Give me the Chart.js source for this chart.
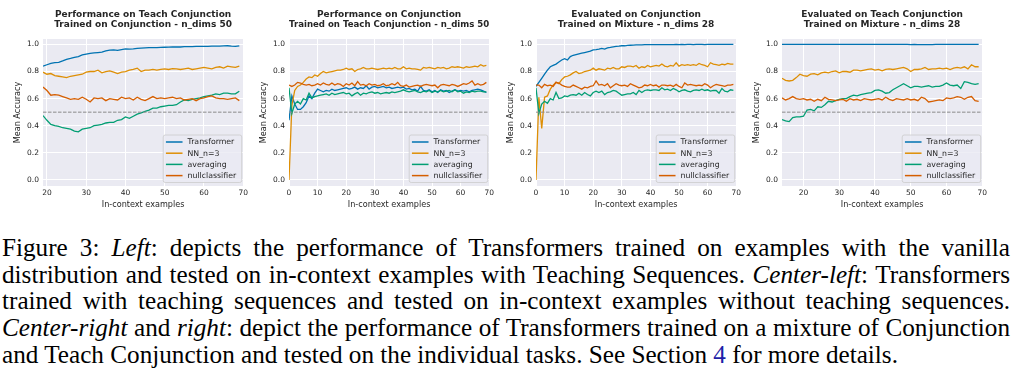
<!DOCTYPE html>
<html>
<head>
<meta charset="utf-8">
<script src="https://cdn.jsdelivr.net/npm/chart.js@4.4.0/dist/chart.umd.min.js"></script>
<style>
  body { margin: 0; width: 1013px; height: 376px; background: #fff; overflow: hidden; position: relative; }
  canvas { position: absolute; top: 0; }
  #caption {
    position: absolute; left: 2px; top: 235px; width: 1008px;
    font-family: "Liberation Serif", "Times New Roman", serif;
    font-size: 25.2px; line-height: 26.7px; color: #000;
  }
  #caption .ln { text-align: justify; text-align-last: justify; }
  #caption .last { text-align-last: left; }
  #caption .ref { color: #1f1fa8; }
</style>
</head>
<body>
<canvas id="c1" width="251" height="215" style="left:0px"></canvas>
<canvas id="c2" width="251" height="215" style="left:246px"></canvas>
<canvas id="c3" width="251" height="215" style="left:493px"></canvas>
<canvas id="c4" width="251" height="215" style="left:739px"></canvas>

<div id="caption">
  <div class="ln">Figure 3: <i>Left</i>: depicts the performance of Transformers trained on examples with the vanilla</div>
  <div class="ln">distribution and tested on in-context examples with Teaching Sequences. <i>Center-left</i>: Transformers</div>
  <div class="ln">trained with teaching sequences and tested on in-context examples without teaching sequences.</div>
  <div class="ln"><i>Center-right</i> and <i>right</i>: depict the performance of Transformers trained on a mixture of Conjunction</div>
  <div class="ln last">and Teach Conjunction and tested on the individual tasks. See Section <span class="ref">4</span> for more details.</div>
</div>

<script>
// series names + colours (seaborn colorblind)
const SERIES = ['Transformer', 'NN_n=3', 'averaging', 'nullclassifier'];
const COLORS = ['#0173B2', '#DE8F05', '#029E73', '#D55E00'];
const CHANCE = 0.5;
const Y_TICKS = [0, 0.2, 0.4, 0.6, 0.8, 1.0];
const Y_LIM = [-0.045, 1.04];

// panel 1: x = 19..69
const P1_TITLE = ['Performance on Teach Conjunction', 'Trained on Conjunction - n_dims 50'];
const P1_X0 = 19;
const P1_XLIM = [19, 70];
const P1_XTICKS = [20, 30, 40, 50, 60, 70];
const P1_TRANSFORMER = [0.84,0.85,0.86,0.865,0.868,0.878,0.89,0.897,0.905,0.91,
  0.922,0.928,0.934,0.937,0.94,0.943,0.952,0.958,0.96,0.956,
  0.962,0.967,0.965,0.967,0.971,0.973,0.975,0.977,0.976,0.977,
  0.978,0.979,0.98,0.981,0.982,0.981,0.983,0.984,0.983,0.985,
  0.986,0.986,0.985,0.987,0.988,0.987,0.989,0.99,0.987,0.986,
  0.99];
const P1_NN = [0.795,0.78,0.785,0.77,0.765,0.76,0.755,0.765,0.77,0.775,
  0.78,0.795,0.8,0.8,0.81,0.79,0.8,0.805,0.795,0.785,
  0.795,0.8,0.81,0.815,0.825,0.8,0.81,0.81,0.815,0.81,
  0.815,0.82,0.815,0.822,0.82,0.815,0.82,0.825,0.815,0.82,
  0.825,0.83,0.825,0.82,0.83,0.835,0.825,0.84,0.835,0.83,
  0.84];
const P1_AVG = [0.475,0.44,0.41,0.4,0.395,0.385,0.38,0.375,0.36,0.355,
  0.375,0.38,0.385,0.4,0.405,0.41,0.42,0.425,0.425,0.44,
  0.445,0.465,0.455,0.47,0.485,0.495,0.505,0.515,0.53,0.53,
  0.54,0.545,0.55,0.55,0.555,0.575,0.59,0.585,0.595,0.6,
  0.605,0.615,0.62,0.625,0.635,0.63,0.64,0.64,0.635,0.635,
  0.655];
const P1_NULL = [0.685,0.66,0.625,0.63,0.625,0.615,0.605,0.595,0.6,0.595,
  0.61,0.595,0.575,0.605,0.6,0.605,0.585,0.6,0.595,0.59,
  0.61,0.6,0.605,0.59,0.61,0.595,0.585,0.6,0.615,0.6,
  0.605,0.6,0.605,0.61,0.6,0.605,0.59,0.595,0.6,0.585,
  0.6,0.605,0.615,0.62,0.605,0.6,0.6,0.595,0.6,0.605,
  0.585];

// panel 2: x = 0..69
const P2_TITLE = ['Performance on Conjunction', 'Trained on Teach Conjunction - n_dims 50'];
const P2_X0 = 0;
const P2_XLIM = [0, 70];
const P2_XTICKS = [0, 10, 20, 30, 40, 50, 60, 70];
const P2_TRANSFORMER = [0.44,0.62,0.56,0.52,0.52,0.54,0.57,0.62,0.6,0.64,
  0.67,0.66,0.65,0.66,0.655,0.67,0.66,0.665,0.67,0.675,
  0.68,0.67,0.675,0.685,0.67,0.68,0.675,0.695,0.67,0.685,
  0.69,0.68,0.685,0.69,0.68,0.685,0.675,0.68,0.685,0.68,
  0.685,0.67,0.675,0.665,0.67,0.655,0.69,0.66,0.655,0.665,
  0.65,0.66,0.645,0.665,0.655,0.66,0.645,0.655,0.665,0.655,
  0.66,0.655,0.66,0.65,0.66,0.665,0.67,0.665,0.655,0.645];
const P2_NN = [0,0.55,0.66,0.69,0.7,0.72,0.745,0.76,0.755,0.775,
  0.765,0.785,0.8,0.79,0.795,0.8,0.805,0.81,0.81,0.815,
  0.825,0.815,0.82,0.8,0.815,0.82,0.83,0.82,0.82,0.825,
  0.82,0.815,0.82,0.825,0.82,0.825,0.82,0.83,0.82,0.82,
  0.835,0.82,0.825,0.82,0.82,0.815,0.81,0.83,0.825,0.83,
  0.825,0.82,0.83,0.825,0.83,0.82,0.825,0.835,0.83,0.835,
  0.83,0.825,0.835,0.83,0.835,0.84,0.835,0.85,0.84,0.845];
const P2_AVG = [0.68,0.49,0.56,0.58,0.56,0.6,0.59,0.64,0.605,0.615,
  0.62,0.625,0.63,0.635,0.625,0.64,0.63,0.635,0.64,0.645,
  0.635,0.64,0.62,0.635,0.645,0.625,0.64,0.635,0.645,0.65,
  0.64,0.645,0.635,0.64,0.645,0.64,0.65,0.645,0.65,0.655,
  0.665,0.655,0.65,0.655,0.66,0.65,0.645,0.655,0.65,0.66,
  0.645,0.655,0.65,0.66,0.65,0.655,0.66,0.65,0.665,0.65,
  0.655,0.64,0.65,0.645,0.655,0.65,0.655,0.655,0.65,0.65];
const P2_NULL = [0.7,0.69,0.7,0.72,0.715,0.705,0.7,0.705,0.695,0.7,
  0.71,0.7,0.715,0.705,0.7,0.715,0.7,0.71,0.705,0.69,
  0.71,0.7,0.715,0.695,0.725,0.7,0.705,0.695,0.71,0.7,
  0.705,0.695,0.7,0.71,0.695,0.7,0.71,0.7,0.72,0.695,
  0.69,0.7,0.685,0.69,0.695,0.7,0.69,0.7,0.705,0.7,
  0.695,0.7,0.68,0.7,0.705,0.7,0.695,0.705,0.7,0.69,
  0.7,0.71,0.705,0.715,0.73,0.7,0.71,0.7,0.705,0.72];

// panel 3: x = 0..69
const P3_TITLE = ['Evaluated on Conjunction', 'Trained on Mixture - n_dims 28'];
const P3_X0 = 0;
const P3_XLIM = [0, 70];
const P3_XTICKS = [0, 10, 20, 30, 40, 50, 60, 70];
const P3_TRANSFORMER = [0.69,0.72,0.75,0.78,0.81,0.835,0.845,0.855,0.87,0.885,
  0.895,0.885,0.91,0.92,0.925,0.93,0.935,0.94,0.945,0.95,
  0.96,0.962,0.965,0.97,0.965,0.975,0.978,0.982,0.985,0.987,
  0.99,0.99,0.993,0.994,0.995,0.996,0.997,0.997,0.998,0.998,
  0.998,0.999,0.998,0.999,0.999,0.999,0.998,0.999,0.999,1,
  0.999,1,0.999,1,1,0.999,1,1,1,0.999,
  1,1,1,1,1,1,1,1,1,1];
const P3_NN = [0,0.61,0.38,0.61,0.62,0.67,0.7,0.72,0.71,0.74,
  0.76,0.765,0.775,0.79,0.8,0.785,0.79,0.8,0.805,0.81,
  0.825,0.81,0.82,0.815,0.81,0.825,0.82,0.83,0.82,0.82,
  0.835,0.83,0.84,0.84,0.835,0.845,0.825,0.835,0.83,0.845,
  0.835,0.84,0.845,0.84,0.855,0.84,0.835,0.845,0.84,0.865,
  0.84,0.85,0.845,0.85,0.845,0.85,0.845,0.86,0.85,0.845,
  0.835,0.865,0.855,0.85,0.845,0.855,0.85,0.86,0.855,0.855];
const P3_AVG = [0.68,0.49,0.56,0.58,0.565,0.6,0.59,0.645,0.6,0.605,
  0.62,0.615,0.625,0.63,0.625,0.64,0.625,0.645,0.63,0.62,
  0.645,0.655,0.645,0.655,0.63,0.645,0.65,0.66,0.655,0.64,
  0.625,0.63,0.635,0.635,0.645,0.63,0.66,0.645,0.66,0.665,
  0.66,0.665,0.665,0.66,0.68,0.665,0.67,0.66,0.675,0.665,
  0.65,0.66,0.665,0.655,0.65,0.66,0.665,0.66,0.67,0.66,
  0.665,0.655,0.66,0.66,0.64,0.675,0.655,0.65,0.665,0.66];
const P3_NULL = [0.7,0.7,0.68,0.705,0.695,0.7,0.69,0.72,0.715,0.7,
  0.69,0.685,0.685,0.7,0.69,0.68,0.67,0.685,0.68,0.69,
  0.695,0.73,0.7,0.705,0.695,0.71,0.68,0.695,0.71,0.7,
  0.695,0.7,0.69,0.71,0.7,0.69,0.68,0.685,0.7,0.695,
  0.705,0.695,0.7,0.685,0.7,0.7,0.695,0.7,0.69,0.705,
  0.69,0.68,0.715,0.7,0.705,0.7,0.695,0.7,0.695,0.71,
  0.7,0.68,0.695,0.705,0.7,0.695,0.69,0.7,0.7,0.705];

// panel 4: x = 14..69
const P4_TITLE = ['Evaluated on Teach Conjunction', 'Trained on Mixture - n_dims 28'];
const P4_X0 = 14;
const P4_XLIM = [14, 70];
const P4_XTICKS = [20, 30, 40, 50, 60, 70];
const P4_TRANSFORMER = [1,1,1,1,1,1,1,1,1,1,
  1,1,1,1,1,1,1,1,1,1,
  1,1,1,1,1,1,1,1,1,1,
  1,1,1,1,1,1,0.999,1,0.999,0.998,
  0.998,0.999,0.999,1,1,1,1,1,1,1,
  1,1,1,1,1,1];
const P4_NN = [0.75,0.735,0.73,0.735,0.755,0.78,0.77,0.765,0.78,0.785,
  0.775,0.79,0.795,0.79,0.8,0.805,0.79,0.8,0.8,0.795,
  0.81,0.81,0.805,0.81,0.815,0.82,0.81,0.815,0.805,0.815,
  0.82,0.815,0.82,0.825,0.83,0.82,0.8,0.815,0.815,0.82,
  0.83,0.815,0.82,0.82,0.825,0.82,0.825,0.815,0.825,0.83,
  0.825,0.835,0.82,0.85,0.835,0.835];
const P4_AVG = [0.445,0.435,0.43,0.46,0.465,0.465,0.47,0.515,0.52,0.51,
  0.54,0.535,0.555,0.58,0.575,0.585,0.595,0.6,0.6,0.615,
  0.625,0.62,0.63,0.635,0.64,0.645,0.66,0.665,0.655,0.64,
  0.645,0.665,0.68,0.695,0.71,0.695,0.68,0.69,0.69,0.685,
  0.69,0.695,0.685,0.69,0.69,0.7,0.715,0.7,0.695,0.7,
  0.675,0.725,0.72,0.71,0.705,0.71];
const P4_NULL = [0.605,0.59,0.6,0.615,0.6,0.595,0.6,0.59,0.595,0.58,
  0.595,0.585,0.61,0.595,0.59,0.585,0.59,0.595,0.58,0.6,
  0.59,0.595,0.585,0.6,0.595,0.59,0.595,0.6,0.59,0.61,
  0.595,0.585,0.6,0.595,0.59,0.6,0.59,0.595,0.585,0.61,
  0.6,0.575,0.58,0.585,0.59,0.585,0.605,0.6,0.605,0.615,
  0.61,0.595,0.61,0.615,0.585,0.58];

const TEXT = '#262626';
const FONT = 'DejaVu Sans';

// seaborn-ish plot background
const plotBg = {
  id: 'plotBg',
  beforeDraw(chart) {
    const { ctx, chartArea: a } = chart;
    ctx.save();
    ctx.fillStyle = '#EAEAF2';
    ctx.fillRect(a.left, a.top, a.right - a.left, a.bottom - a.top);
    ctx.restore();
  },
};

// matplotlib style legend, lower right inside the axes
const innerLegend = {
  id: 'innerLegend',
  afterDatasetsDraw(chart) {
    const { ctx, chartArea: a } = chart;
    const w = 78.5, h = 47.5;
    const x0 = a.right - 1.5 - w, y0 = a.bottom - 3.5 - h;
    ctx.save();
    ctx.beginPath();
    ctx.roundRect(x0, y0, w, h, 2);
    ctx.fillStyle = 'rgba(234,234,242,0.8)';
    ctx.fill();
    ctx.strokeStyle = '#cccccc';
    ctx.lineWidth = 0.8;
    ctx.stroke();
    ctx.font = `7.8px "${FONT}"`;
    ctx.textBaseline = 'middle';
    SERIES.forEach((name, i) => {
      const y = y0 + 7 + i * 11.2;
      ctx.beginPath();
      ctx.moveTo(x0 + 2.7, y);
      ctx.lineTo(x0 + 19.3, y);
      ctx.strokeStyle = COLORS[i];
      ctx.lineWidth = 1.5;
      ctx.stroke();
      ctx.fillStyle = TEXT;
      ctx.fillText(name, x0 + 24.3, y + 0.3);
    });
    ctx.restore();
  },
};

function toPoints(x0, values) {
  return values.map((v, i) => ({ x: x0 + i, y: v }));
}

function buildDatasets(x0, xlim, series) {
  const sets = series.map((values, i) => ({
    label: SERIES[i],
    data: toPoints(x0, values),
    borderColor: COLORS[i],
    borderWidth: 1.3,
    pointRadius: 0,
    tension: 0,
    order: 10 - i,
  }));
  sets.push({
    label: 'chance',
    data: [{ x: xlim[0], y: CHANCE }, { x: xlim[1], y: CHANCE }],
    borderColor: '#8a8a8a',
    borderWidth: 1,
    borderDash: [3.5, 1.5],
    pointRadius: 0,
    order: 0,
  });
  return sets;
}

function chartOptions(title, xlim, xticks) {
  return {
    responsive: false,
    animation: false,
    events: [],
    layout: { padding: { left: 0, right: 6, top: 0, bottom: 0 } },
    plugins: {
      legend: { display: false },
      tooltip: { enabled: false },
      title: {
        display: true,
        text: title,
        fullSize: false,
        color: TEXT,
        font: { family: FONT, size: 9, weight: 'bold', lineHeight: 1.12 },
        padding: { top: 10, bottom: 8.84 },
      },
    },
    scales: {
      x: {
        type: 'linear',
        min: xlim[0],
        max: xlim[1],
        afterBuildTicks: s => { s.ticks = xticks.map(v => ({ value: v })); },
        afterFit: s => { s.height = 29; },
        ticks: { color: TEXT, font: { family: FONT, size: 7.5 }, padding: 3, maxRotation: 0, autoSkip: false, callback: v => String(v) },
        grid: { color: '#ffffff', lineWidth: 1, drawTicks: false },
        border: { display: false },
        title: { display: true, text: 'In-context examples', color: TEXT, font: { family: FONT, size: 8.1 }, padding: { top: 0, bottom: 5.14 } },
      },
      y: {
        min: Y_LIM[0],
        max: Y_LIM[1],
        afterBuildTicks: s => { s.ticks = Y_TICKS.map(v => ({ value: v })); },
        afterFit: s => { s.width = 43; },
        ticks: { color: TEXT, font: { family: FONT, size: 7.5 }, padding: 4, callback: v => v.toFixed(1) },
        grid: { color: '#ffffff', lineWidth: 1, drawTicks: false },
        border: { display: false },
        title: { display: true, text: 'Mean Accuracy', color: TEXT, font: { family: FONT, size: 8.1 }, padding: { top: 13.14, bottom: 0 } },
      },
    },
  };
}

function initPanel(canvasId, title, x0, xlim, xticks, series) {
  const ctx = document.getElementById(canvasId).getContext('2d');
  return new Chart(ctx, {
    type: 'line',
    data: { datasets: buildDatasets(x0, xlim, series) },
    options: chartOptions(title, xlim, xticks),
    plugins: [plotBg, innerLegend],
  });
}

initPanel('c1', P1_TITLE, P1_X0, P1_XLIM, P1_XTICKS, [P1_TRANSFORMER, P1_NN, P1_AVG, P1_NULL]);
initPanel('c2', P2_TITLE, P2_X0, P2_XLIM, P2_XTICKS, [P2_TRANSFORMER, P2_NN, P2_AVG, P2_NULL]);
initPanel('c3', P3_TITLE, P3_X0, P3_XLIM, P3_XTICKS, [P3_TRANSFORMER, P3_NN, P3_AVG, P3_NULL]);
initPanel('c4', P4_TITLE, P4_X0, P4_XLIM, P4_XTICKS, [P4_TRANSFORMER, P4_NN, P4_AVG, P4_NULL]);
</script>
</body>
</html>
